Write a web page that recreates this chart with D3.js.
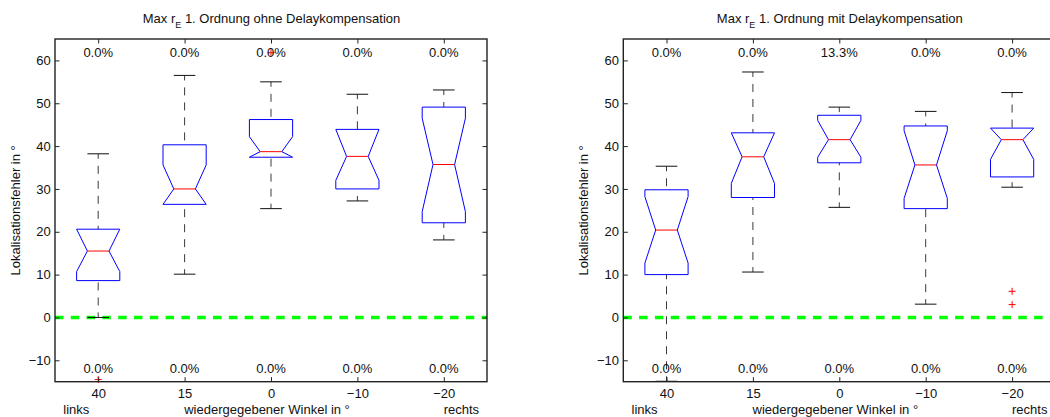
<!DOCTYPE html>
<html>
<head>
<meta charset="utf-8">
<script src="https://cdn.jsdelivr.net/npm/d3@7"></script>
<style>
  html, body { margin: 0; padding: 0; background: #fff; }
  svg { display: block; font-family: "Liberation Sans", Arial, Helvetica, sans-serif; }
</style>
</head>
<body>
<script>
// ---------- data ----------
const categories = ["40", "15", "0", "\u221210", "\u221220"];
const yTickValues = [-10, 0, 10, 20, 30, 40, 50, 60];

const titleOhne = " 1. Ordnung ohne Delaykompensation";
const titleMit = " 1. Ordnung mit Delaykompensation";

// left panel: ohne Delaykompensation
const ohneQ1 = [8.6, 26.4, 37.4, 30.0, 22.1];
const ohneQ3 = [20.6, 40.3, 46.2, 43.9, 49.1];
const ohneMedian = [15.5, 30.0, 38.7, 37.6, 35.7];
const ohneNotchLo = [10.7, 26.4, 37.4, 32.0, 24.7];
const ohneNotchHi = [20.6, 35.6, 42.2, 43.9, 46.5];
const ohneWhiskerLo = [0.0, 10.1, 25.4, 27.2, 18.1];
const ohneWhiskerHi = [38.2, 56.5, 55.0, 52.1, 53.1];
const ohneOutliers = [[-14.5], [], [61.8], [], []];
const ohnePctTop = ["0.0%", "0.0%", "0.0%", "0.0%", "0.0%"];
const ohnePctBottom = ["0.0%", "0.0%", "0.0%", "0.0%", "0.0%"];

// right panel: mit Delaykompensation
const mitQ1 = [10.0, 28.0, 36.1, 25.4, 32.8];
const mitQ3 = [29.8, 43.1, 47.2, 44.7, 44.2];
const mitMedian = [20.4, 37.5, 41.5, 35.6, 41.5];
const mitNotchLo = [12.7, 31.3, 37.4, 27.8, 36.9];
const mitNotchHi = [28.2, 43.1, 46.0, 43.6, 44.2];
const mitWhiskerLo = [-14.9, 10.6, 25.7, 3.1, 30.4];
const mitWhiskerHi = [35.3, 57.3, 49.1, 48.1, 52.5];
const mitOutliers = [[], [], [], [], [6.1, 3.0]];
const mitPctTop = ["0.0%", "0.0%", "13.3%", "0.0%", "0.0%"];
const mitPctBottom = ["0.0%", "0.0%", "0.0%", "0.0%", "0.0%"];

// ---------- build ----------
function buildBoxes(q1, q3, med, nLo, nHi, wLo, wHi, out) {
  return categories.map((c, i) => ({
    cat: c, q1: q1[i], q3: q3[i], med: med[i], nLo: nLo[i], nHi: nHi[i],
    wLo: wLo[i], wHi: wHi[i], out: out[i]
  }));
}
const panels = [
  { left: 55, title: titleOhne,
    boxes: buildBoxes(ohneQ1, ohneQ3, ohneMedian, ohneNotchLo, ohneNotchHi, ohneWhiskerLo, ohneWhiskerHi, ohneOutliers),
    pctTop: ohnePctTop, pctBottom: ohnePctBottom },
  { left: 623.3, title: titleMit,
    boxes: buildBoxes(mitQ1, mitQ3, mitMedian, mitNotchLo, mitNotchHi, mitWhiskerLo, mitWhiskerHi, mitOutliers),
    pctTop: mitPctTop, pctBottom: mitPctBottom }
];

const W = 1050, H = 417;
const plotW = 432, plotTop = 39, plotH = 342.7;
const fs = 13;

const svg = d3.select("body").append("svg").attr("width", W).attr("height", H);

panels.forEach(p => {
  const g = svg.append("g").attr("transform", `translate(${p.left},${plotTop})`);
  const x = d3.scalePoint().domain(categories).range([0, plotW]).padding(0.5);
  const y = d3.scaleLinear().domain([-15, 65]).range([plotH, 0]);
  const step = x.step();
  const bw = step * 0.25, nw = step * 0.125, cw = step * 0.125;

  // zero reference line
  g.append("line")
    .attr("x1", 0).attr("x2", plotW)
    .attr("y1", y(0)).attr("y2", y(0))
    .attr("stroke", "#00ff00").attr("stroke-width", 3.5)
    .attr("stroke-dasharray", "8.5,7.3");

  const bx = g.selectAll("g.box").data(p.boxes).join("g").attr("class", "box")
    .attr("transform", d => `translate(${x(d.cat)},0)`);

  // whiskers (dashed, drawn from the cap towards the box)
  bx.append("line").attr("x1", 0).attr("x2", 0)
    .attr("y1", d => y(d.wHi)).attr("y2", d => y(d.q3))
    .attr("stroke", "#3a3a3a").attr("stroke-width", 1)
    .attr("stroke-dasharray", "8,7").attr("stroke-dashoffset", 3);
  bx.append("line").attr("x1", 0).attr("x2", 0)
    .attr("y1", d => y(d.wLo)).attr("y2", d => y(d.q1))
    .attr("stroke", "#3a3a3a").attr("stroke-width", 1)
    .attr("stroke-dasharray", "8,7").attr("stroke-dashoffset", 3);
  // caps
  bx.append("line").attr("x1", -cw).attr("x2", cw)
    .attr("y1", d => y(d.wHi)).attr("y2", d => y(d.wHi))
    .attr("stroke", "#111").attr("stroke-width", 1);
  bx.append("line").attr("x1", -cw).attr("x2", cw)
    .attr("y1", d => y(d.wLo)).attr("y2", d => y(d.wLo))
    .attr("stroke", "#111").attr("stroke-width", 1);

  // notched box
  bx.append("path")
    .attr("d", d => {
      const pts = [
        [-bw, y(d.q3)], [bw, y(d.q3)], [bw, y(d.nHi)], [nw, y(d.med)],
        [bw, y(d.nLo)], [bw, y(d.q1)], [-bw, y(d.q1)], [-bw, y(d.nLo)],
        [-nw, y(d.med)], [-bw, y(d.nHi)]
      ];
      return d3.line()(pts) + "Z";
    })
    .attr("fill", "none").attr("stroke", "#0000ff").attr("stroke-width", 1);

  // median
  bx.append("line").attr("x1", -nw).attr("x2", nw)
    .attr("y1", d => y(d.med)).attr("y2", d => y(d.med))
    .attr("stroke", "#ff0000").attr("stroke-width", 1);

  // outliers
  bx.each(function(d) {
    const sel = d3.select(this);
    d.out.forEach(v => {
      sel.append("path")
        .attr("d", `M${-3.5},${y(v)}H${3.5}M0,${y(v) - 3.5}V${y(v) + 3.5}`)
        .attr("stroke", "#ff0000").attr("stroke-width", 1).attr("fill", "none");
    });
  });

  // percentage labels
  g.selectAll("text.pt").data(p.pctTop).join("text").attr("class", "pt")
    .attr("x", (d, i) => x(categories[i])).attr("y", 18.3)
    .attr("text-anchor", "middle").attr("font-size", fs).attr("fill", "#111").text(d => d);
  g.selectAll("text.pb").data(p.pctBottom).join("text").attr("class", "pb")
    .attr("x", (d, i) => x(categories[i])).attr("y", plotH - 8.4)
    .attr("text-anchor", "middle").attr("font-size", fs).attr("fill", "#111").text(d => d);

  // axes (box with ticks inward on all sides)
  const fmt = v => v < 0 ? "\u2212" + Math.abs(v) : String(v);
  const yl = g.append("g").call(d3.axisLeft(y).tickValues(yTickValues).tickFormat(fmt).tickSizeInner(-4.5).tickSizeOuter(0).tickPadding(4.3));
  const yr = g.append("g").attr("transform", `translate(${plotW},0)`)
    .call(d3.axisRight(y).tickValues(yTickValues).tickFormat("").tickSizeInner(-4.5).tickSizeOuter(0));
  const xb = g.append("g").attr("transform", `translate(0,${plotH})`)
    .call(d3.axisBottom(x).tickSizeInner(-4.5).tickSizeOuter(0).tickPadding(7));
  const xt = g.append("g")
    .call(d3.axisTop(x).tickFormat("").tickSizeInner(-4.5).tickSizeOuter(0));
  [yl, yr, xb, xt].forEach(a => {
    a.select(".domain").remove();
    a.selectAll(".tick line").attr("stroke", "#222").attr("stroke-width", 1);
    a.selectAll(".tick text").attr("font-size", fs).attr("fill", "#111")
      .attr("font-family", "Liberation Sans, Arial, sans-serif");
  });
  g.append("rect").attr("x", 0).attr("y", 0).attr("width", plotW).attr("height", plotH)
    .attr("fill", "none").attr("stroke", "#222").attr("stroke-width", 1.4);

  // title
  const t = g.append("text").attr("x", plotW / 2 + 0.5).attr("y", 22.5 - plotTop)
    .attr("text-anchor", "middle").attr("font-size", fs).attr("fill", "#111");
  t.append("tspan").text("Max r");
  t.append("tspan").attr("font-size", 9).attr("dy", 5).text("E");
  t.append("tspan").attr("dy", -5).text(p.title);

  // y label
  g.append("text")
    .attr("transform", `translate(${-35},${plotH / 2}) rotate(-90)`)
    .attr("text-anchor", "middle").attr("font-size", fs).attr("fill", "#111")
    .text("Lokalisationsfehler in \u00b0");

  // x labels
  const xlY = 413.5 - plotTop;
  g.append("text").attr("x", 8.3).attr("y", xlY).attr("font-size", fs).attr("fill", "#111").text("links");
  g.append("text").attr("x", 212).attr("y", xlY).attr("text-anchor", "middle")
    .attr("font-size", fs).attr("fill", "#111").text("wiedergegebener Winkel in \u00b0");
  g.append("text").attr("x", 388.7).attr("y", xlY).attr("font-size", fs).attr("fill", "#111").text("rechts");
});
</script>
</body>
</html>
